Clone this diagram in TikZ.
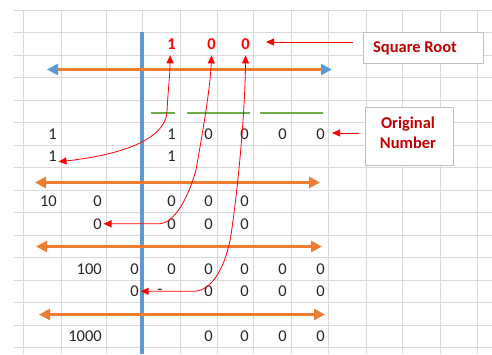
\documentclass[tikz,border=0pt]{standalone}
\usepackage{fontspec}
\setmainfont{Carlito}
\usetikzlibrary{arrows.meta}
\definecolor{gridc}{HTML}{D9D9D9}
\definecolor{blu}{HTML}{5B9BD5}
\definecolor{org}{HTML}{ED7D31}
\definecolor{grn}{HTML}{70AD47}
\definecolor{dred}{HTML}{C00000}
\definecolor{txt}{HTML}{262626}
\definecolor{boxc}{HTML}{BFBFBF}
\begin{document}
\begin{tikzpicture}[x=1pt,y=-1pt,
  num/.style={anchor=east,inner sep=0pt,text=txt,font=\fontsize{16.5}{18}\selectfont},
  rnum/.style={anchor=east,inner sep=0pt,text=red,font=\fontsize{16.5}{18}\selectfont\bfseries},
  lbl/.style={text=dred,font=\fontsize{16.5}{20}\selectfont\bfseries,align=center,inner sep=0pt},
  lblbox/.style={draw=boxc,fill=white,line width=0.9pt,inner sep=0pt},
  redarr/.style={draw=red,line width=0.8pt},
  rtip/.style={-{Triangle[length=8pt,width=7pt]}},
  rtips/.style={{Triangle[length=8pt,width=7pt]}-{Triangle[length=8pt,width=7pt]}},
  bigarr/.style={draw=org,line width=3.2pt,{Triangle[length=11pt,width=11pt]}-{Triangle[length=11pt,width=11pt]}},
  greenln/.style={draw=grn,line width=2.4pt}
]
\useasboundingbox (0,0) rectangle (492,354);
\fill[white] (0,0) rectangle (492,354);
% grid
\foreach \x in {23,61,106,142,180,217,253,291,328,366,402,440,477}
  \draw[gridc,line width=0.8pt] (\x,10) -- (\x,354);
\foreach \k in {0,...,15}
  \draw[gridc,line width=0.8pt] (14,{10+22.5*\k}) -- (492,{10+22.5*\k});
% blue vertical line
\draw[blu,line width=3.4pt] (142,32) -- (142,354);
% horizontal arrows
\coordinate (t3l) at (47,69.5);
\coordinate (t3r) at (332,69.5);
\draw[draw=blu,line width=3.4pt,{Triangle[length=11pt,width=11pt]}-{Triangle[length=11pt,width=11pt]}] (t3l) -- (t3r);
\draw[org,line width=2.4pt] ([xshift=10pt]t3l) -- ([xshift=-10pt]t3r);
\coordinate (t8l) at (35,182.5);
\coordinate (t8r) at (320,182.5);
\draw[bigarr] (t8l) -- (t8r);
\coordinate (t11l) at (36,246.5);
\coordinate (t11r) at (322,246.5);
\draw[bigarr] (t11l) -- (t11r);
\coordinate (t14l) at (39,314.5);
\coordinate (t14r) at (325,314.5);
\draw[bigarr] (t14l) -- (t14r);
% green lines
\draw[greenln] (151,113) -- (175,113);
\draw[greenln] (187,113) -- (250,113);
\draw[greenln] (260,113) -- (323,113);
% red top digits
\node[rnum] (r2d) at (176,43.75) {1};
\node[rnum] (r2e) at (216,43.75) {0};
\node[rnum] (r2f) at (250,43.75) {0};
% row 6
\node[num] (a6) at (57,133.75) {1};
\node[num] (d6) at (176,133.75) {1};
\node[num] (e6) at (213,133.75) {0};
\node[num] (f6) at (249,133.75) {0};
\node[num] (g6) at (287,133.75) {0};
\node[num] (h6) at (325,133.75) {0};
% row 7
\node[num] (a7) at (57,156.25) {1};
\node[num] (d7) at (176,156.25) {1};
% row 9
\node[num] (a9) at (57,201.25) {10};
\node[num] (b9) at (102,201.25) {0};
\node[num] (d9) at (176,201.25) {0};
\node[num] (e9) at (213,201.25) {0};
\node[num] (f9) at (249,201.25) {0};
% row 10
\node[num] (b10) at (102,223.75) {0};
\node[num] (d10) at (176,223.75) {0};
\node[num] (e10) at (213,223.75) {0};
\node[num] (f10) at (249,223.75) {0};
% row 12
\node[num] (b12) at (102,268.75) {100};
\node[num] (c12) at (139,268.75) {0};
\node[num] (d12) at (176,268.75) {0};
\node[num] (e12) at (213,268.75) {0};
\node[num] (f12) at (249,268.75) {0};
\node[num] (g12) at (287,268.75) {0};
\node[num] (h12) at (325,268.75) {0};
% row 13
\node[num] (c13) at (139,291.25) {0};
\node[inner sep=0pt,text=txt,font=\fontsize{16.5}{18}\selectfont] (dash13) at (160,292) {-};
\node[num] (e13) at (213,291.25) {0};
\node[num] (f13) at (249,291.25) {0};
\node[num] (g13) at (287,291.25) {0};
\node[num] (h13) at (325,291.25) {0};
% row 15
\node[num] (b15) at (102,336.25) {1000};
\node[num] (e15) at (213,336.25) {0};
\node[num] (f15) at (249,336.25) {0};
\node[num] (g15) at (287,336.25) {0};
\node[num] (h15) at (325,336.25) {0};
% red curved arrows
\draw[redarr,rtips] ([xshift=1.5pt]a7.south east) .. controls (120,155) and (165,140) .. (167,112) .. controls (168,90) and (170,75) .. ([xshift=-1.5pt,yshift=-6pt]r2d.south);
\draw[redarr,rtips] ([xshift=1.5pt]b10.east) -- (160,223.75) .. controls (172,223) and (186,205) .. (196,170) .. controls (203,130) and (210,90) .. ([yshift=-6pt]r2e.south);
\draw[redarr,rtips] ([xshift=1.5pt]c13.east) -- (195,291.25) .. controls (213,290) and (226,265) .. (231,235) .. controls (239,180) and (245,110) .. ([yshift=-6pt]r2f.south);
% label boxes
\node[lblbox,minimum width=120pt,minimum height=31pt] (sq) at (423,47.5) {};
\node[lbl] (sqt) at (415,48) {Square Root};
\node[lblbox,minimum width=88pt,minimum height=58pt] (on) at (409,136) {};
\node[lbl] (ont) at (408,133) {Original\\Number};
\coordinate (sqs) at (353,42);
\coordinate (sqe) at (266,42);
\draw[redarr,rtip] (sqs) -- (sqe);
\coordinate (ons) at (359,133);
\coordinate (one) at (332,133);
\draw[redarr,rtip] (ons) -- (one);
\end{tikzpicture}
\end{document}
